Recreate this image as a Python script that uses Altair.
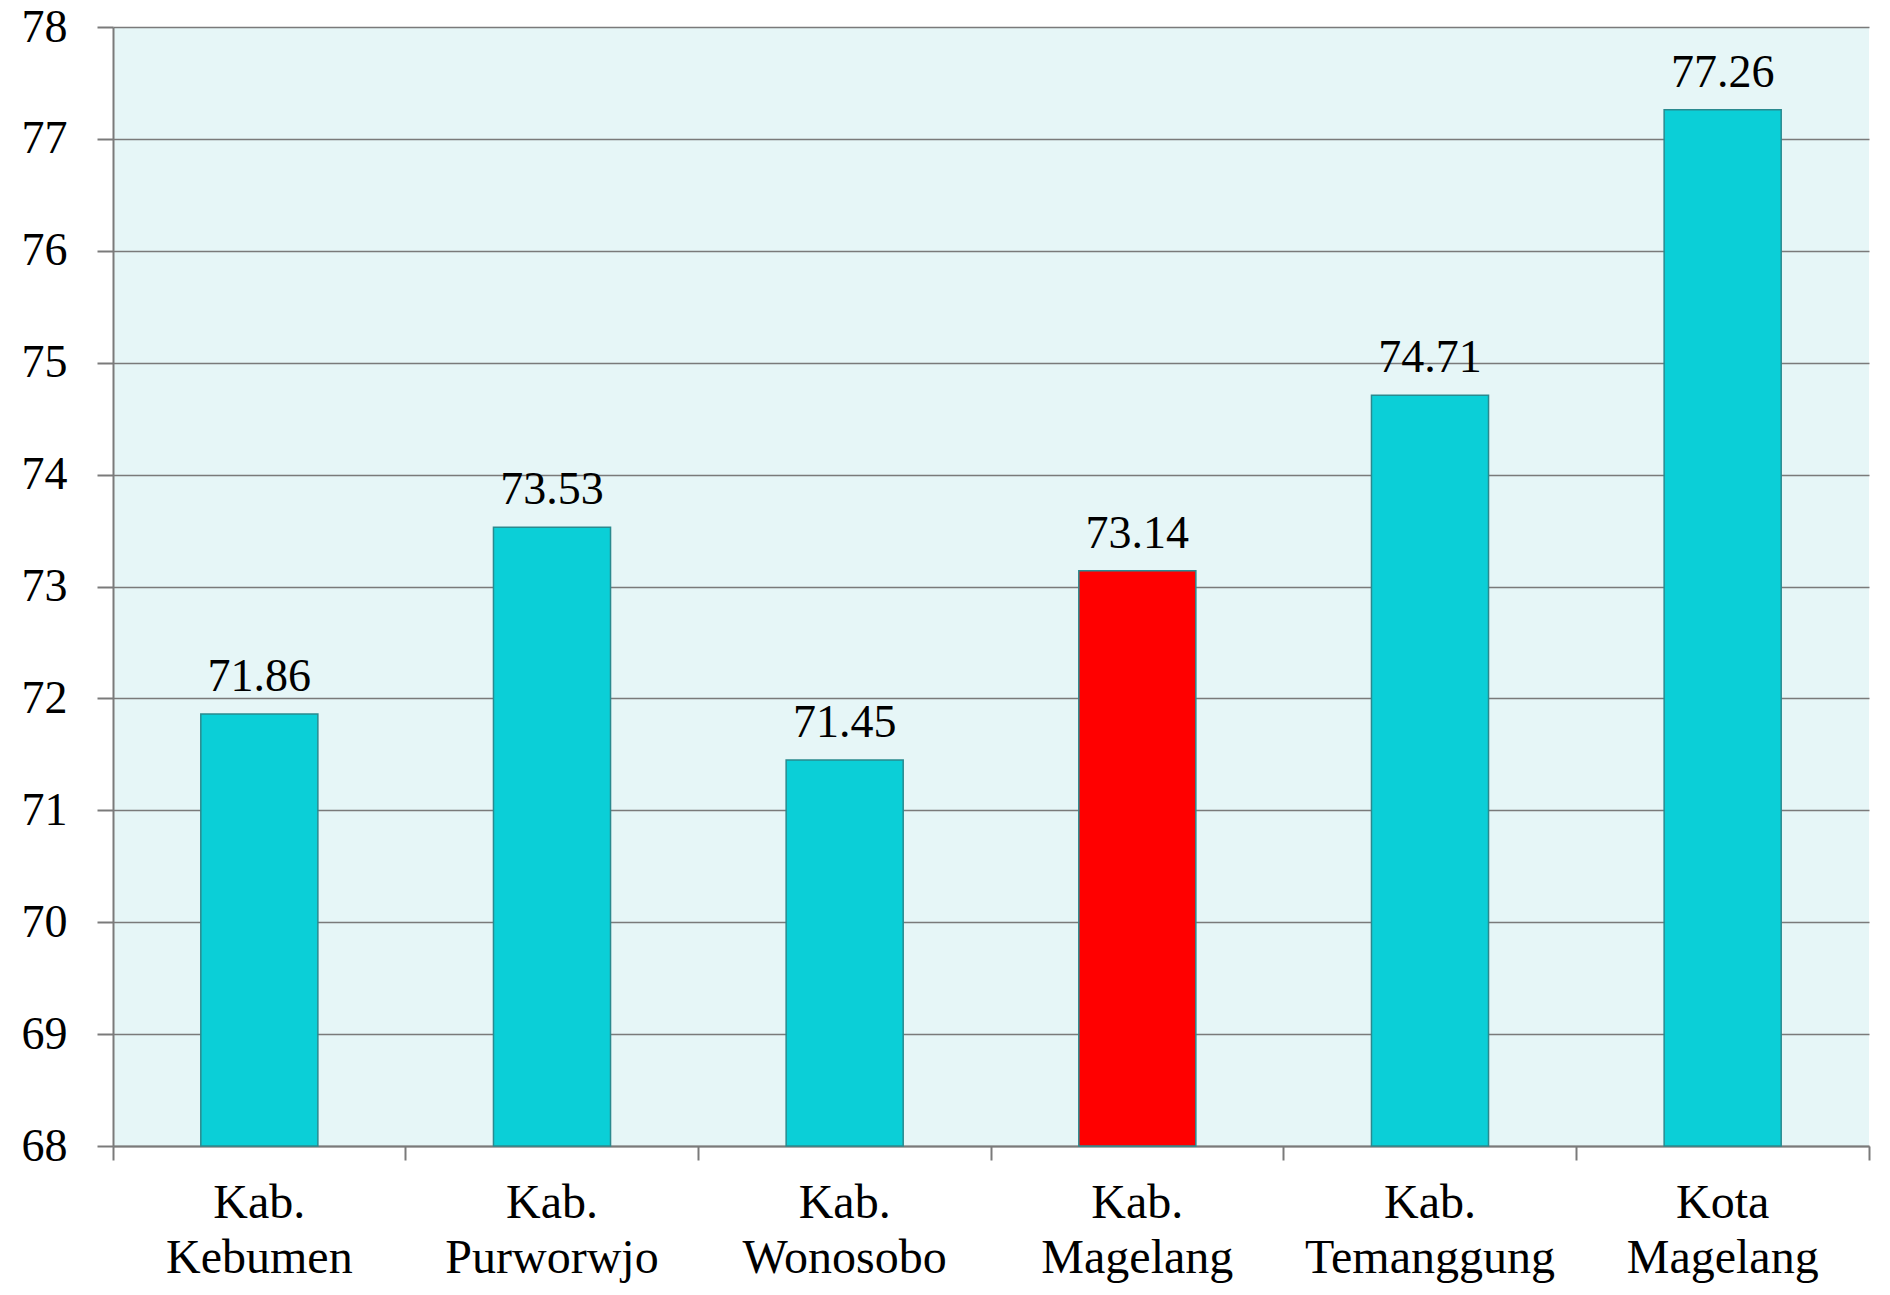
import altair as alt
import pandas as pd

categories = ["Kab. Kebumen", "Kab. Purworwjo", "Kab. Wonosobo",
              "Kab. Magelang", "Kab. Temanggung", "Kota Magelang"]
values = [71.86, 73.53, 71.45, 73.14, 74.71, 77.26]
highlight = ["no", "no", "no", "yes", "no", "no"]
y_ticks = [68, 69, 70, 71, 72, 73, 74, 75, 76, 77, 78]

df = pd.DataFrame({"region": categories, "value": values, "hl": highlight})

W, H = 1756, 1119
FONT = "Liberation Serif"
GRAY = "#7a7a7a"

x = alt.X(
    "region:N", sort=categories, title=None,
    scale=alt.Scale(paddingInner=0, paddingOuter=0),
    axis=alt.Axis(
        bandPosition=1, tickExtra=True,
        labelAngle=0, labelExpr="split(datum.label, ' ')",
        labelFont=FONT, labelFontSize=48, labelLineHeight=55,
        labelPadding=19, labelColor="black", labelLimit=0,
        tickSize=14, tickColor=GRAY, tickWidth=2,
        domainColor=GRAY, domainWidth=2, grid=False,
    ),
)
y = alt.Y(
    "value:Q", title=None,
    scale=alt.Scale(domain=[y_ticks[0], y_ticks[-1]], nice=False, zero=False),
    axis=alt.Axis(
        values=y_ticks, format="d", grid=True, gridColor=GRAY, gridWidth=1.5,
        tickSize=16, tickColor=GRAY, tickWidth=2,
        domainColor=GRAY, domainWidth=2,
        labelFont=FONT, labelFontSize=46, labelPadding=30, labelColor="black",
    ),
)

bars = alt.Chart(df).mark_bar(
    width=alt.RelativeBandSize(0.4), stroke="#2a8a8f", strokeWidth=1.5
).encode(
    x=x, y=y, y2=alt.Y2(datum=y_ticks[0]),
    color=alt.Color("hl:N", scale=alt.Scale(domain=["no", "yes"],
                                           range=["#0BCFD7", "#FF0000"]),
                    legend=None),
)

labels = alt.Chart(df).mark_text(
    baseline="alphabetic", dy=-23, fontSize=46, font=FONT, color="black"
).encode(
    x=alt.X("region:N", sort=categories),
    y=alt.Y("value:Q"),
    text=alt.Text("value:Q", format=".2f"),
)

chart = alt.layer(bars, labels).properties(
    width=W, height=H,
    autosize=alt.AutoSizeParams(type="none"),
    padding={"left": 105, "top": 19, "right": 13, "bottom": 141},
    background="white",
).configure_view(fill="#E6F6F7", stroke=None)

chart.save("out.html", embed_options={"renderer": "svg", "actions": False})
